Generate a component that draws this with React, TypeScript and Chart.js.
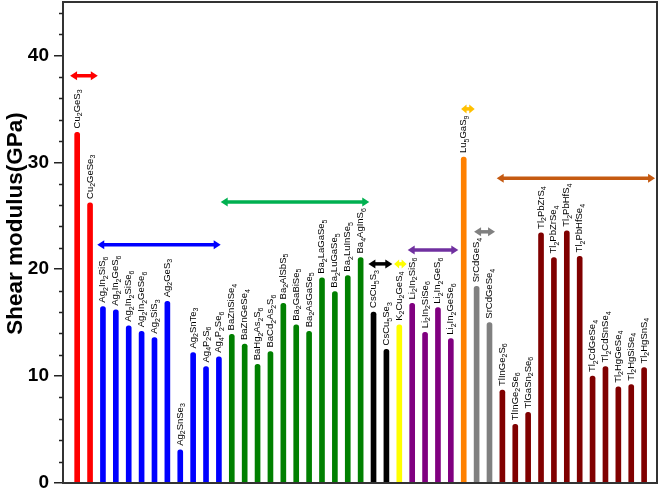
import React, { useEffect, useRef } from "react";
import { Chart, registerables } from "chart.js";

Chart.register(...registerables);

const categories: string[] = [
  "Cu2GeS3", "Cu2GeSe3",
  "Ag2In2SiS6", "Ag2In2GeS6", "Ag2In2SiSe6", "Ag2In2GeSe6", "Ag2SiS3", "Ag2GeS3", "Ag2SnSe3", "Ag2SnTe3", "Ag4P2S6", "Ag4P2Se6",
  "BaZnSiSe4", "BaZnGeSe4", "BaHg2As2S6", "BaCd2As2S6", "Ba2AlSbS5", "Ba2GaBiSe5", "Ba2AsGaSe5", "Ba2LaGaSe5", "Ba2LuGaSe5", "Ba2LuInSe5", "Ba4AgInS6",
  "CsCu5S3", "CsCu5Se3",
  "K2Cu2GeS4",
  "Li2In2SiS6", "Li2In2SiSe6", "Li2In2GeS6", "Li2In2GeSe6",
  "Lu5GaS9",
  "SrCdGeS4", "SrCdGeSe4",
  "TlInGe2S6", "TlInGe2Se6", "TlGaSn2Se6", "Tl2PbZrS4", "Tl2PbZrSe4", "Tl2PbHfS4", "Tl2PbHfSe4", "Tl2CdGeSe4", "Tl2CdSnSe4", "Tl2HgGeSe4", "Tl2HgSiSe4", "Tl2HgSnS4",
];

const shearModulus: number[] = [
  32.8, 26.2,
  16.5, 16.2, 14.7, 14.2, 13.6, 17.0, 3.1, 12.2, 10.9, 11.8,
  13.9, 13.0, 11.1, 12.3, 16.8, 14.8, 14.2, 19.2, 17.9, 19.4, 21.1,
  16.0, 12.5,
  14.8,
  16.8, 14.1, 16.4, 13.5,
  30.5,
  18.4, 15.0,
  8.7, 5.5, 6.6, 23.4, 21.1, 23.6, 21.2, 10.0, 10.9, 9.0, 9.2, 10.8,
];

const groupSizes: number[] = [2, 10, 11, 2, 1, 4, 1, 2, 12];
const groupColors: string[] = ["#ff0000", "#0000ff", "#008000", "#000000", "#ffff00", "#800080", "#ff8000", "#808080", "#800000"];

const arrowStarts: number[] = [0.45, 2.56, 12.14, 23.6, 25.6, 26.65, 30.8, 31.8, 33.56];
const arrowEnds: number[] = [2.6, 12.14, 23.67, 25.46, 26.57, 30.58, 31.85, 33.43, 45.85];
const arrowLevels: number[] = [38.1, 22.3, 26.3, 20.5, 20.5, 21.8, 35.0, 23.5, 28.5];
const arrowColors: string[] = ["#ff0000", "#0000ff", "#00b050", "#000000", "#ffff00", "#7030a0", "#ffc000", "#808080", "#c55a11"];

const yMajorStep = 10;
const yMinorStep = 2;
const yTitle = "Shear modulus(GPa)";

const FAM = "'Liberation Sans', Arial, Helvetica, sans-serif";

const barColors: string[] = [];
groupSizes.forEach((n, g) => {
  for (let k = 0; k < n; k++) barColors.push(groupColors[g]);
});

const labelPlugin = {
  id: "formulaLabels",
  afterDatasetsDraw(chart: any) {
    const ctx = chart.ctx as CanvasRenderingContext2D;
    const meta = chart.getDatasetMeta(0);
    ctx.save();
    ctx.fillStyle = "#000";
    ctx.textAlign = "left";
    ctx.textBaseline = "alphabetic";
    meta.data.forEach((el: any, i: number) => {
      const text = categories[i];
      const runs = text.match(/\d+|\D+/g) || [];
      ctx.save();
      ctx.translate(el.x + 2.5, el.y - 4);
      ctx.rotate(-Math.PI / 2);
      let cx = 0;
      for (const r of runs) {
        const sub = /\d/.test(r);
        ctx.font = sub ? `7px ${FAM}` : `9.5px ${FAM}`;
        ctx.fillText(r, cx, sub ? 2.6 : 0);
        cx += ctx.measureText(r).width;
      }
      ctx.restore();
    });
    ctx.restore();
  },
};

const arrowPlugin = {
  id: "groupArrows",
  afterDatasetsDraw(chart: any) {
    const ctx = chart.ctx as CanvasRenderingContext2D;
    const xs = chart.scales.x;
    const ys = chart.scales.y;
    ctx.save();
    arrowStarts.forEach((s, i) => {
      const x1 = xs.getPixelForValue(s);
      const x2 = xs.getPixelForValue(arrowEnds[i]);
      const y = ys.getPixelForValue(arrowLevels[i]);
      const head = Math.min(7, (x2 - x1) / 2.5);
      ctx.strokeStyle = arrowColors[i];
      ctx.fillStyle = arrowColors[i];
      ctx.lineWidth = 3.5;
      ctx.beginPath();
      ctx.moveTo(x1 + head - 1, y);
      ctx.lineTo(x2 - head + 1, y);
      ctx.stroke();
      ctx.beginPath();
      ctx.moveTo(x1, y);
      ctx.lineTo(x1 + head, y - 4.5);
      ctx.lineTo(x1 + head, y + 4.5);
      ctx.closePath();
      ctx.fill();
      ctx.beginPath();
      ctx.moveTo(x2, y);
      ctx.lineTo(x2 - head, y - 4.5);
      ctx.lineTo(x2 - head, y + 4.5);
      ctx.closePath();
      ctx.fill();
    });
    ctx.restore();
  },
};

const framePlugin = {
  id: "frameAndMinor",
  afterDraw(chart: any) {
    const ctx = chart.ctx as CanvasRenderingContext2D;
    const a = chart.chartArea;
    const ys = chart.scales.y;
    ctx.save();
    ctx.strokeStyle = "#333";
    ctx.lineWidth = 2;
    ctx.strokeRect(a.left, a.top, a.right - a.left, a.bottom - a.top);
    ctx.lineWidth = 1.5;
    ctx.strokeStyle = "#222";
    for (let v = yMinorStep; v < ys.max; v += yMinorStep) {
      if (v % yMajorStep === 0) continue;
      const y = Math.round(ys.getPixelForValue(v)) + 0.5;
      ctx.beginPath();
      ctx.moveTo(a.left - 4, y);
      ctx.lineTo(a.left, y);
      ctx.stroke();
    }
    // y-axis title
    ctx.save();
    ctx.translate(22, (a.top + a.bottom) / 2 - 19);
    ctx.rotate(-Math.PI / 2);
    ctx.font = `bold 22.5px ${FAM}`;
    ctx.fillStyle = "#000";
    ctx.textAlign = "center";
    ctx.textBaseline = "alphabetic";
    ctx.fillText(yTitle, 0, 0);
    ctx.restore();
    ctx.restore();
  },
};

export default function App() {
  const ref = useRef<HTMLCanvasElement | null>(null);
  useEffect(() => {
    if (!ref.current) return;
    const chart = new Chart(ref.current, {
      type: "bar",
      data: {
        datasets: [
          {
            data: categories.map((c, i) => ({ x: i + 1, y: shearModulus[i] })),
            backgroundColor: barColors,
            barThickness: 5,
            borderRadius: 2.5,
            borderSkipped: "start",
          } as any,
        ],
      },
      options: {
        responsive: false,
        animation: false,
        layout: { padding: { left: 0, top: 2, right: 3, bottom: 7 } },
        plugins: { legend: { display: false }, tooltip: { enabled: false } },
        scales: {
          x: { type: "linear", min: -0.1, max: 46, offset: false, display: false },
          y: {
            type: "linear",
            min: 0,
            max: 45,
            position: "left",
            afterFit: (s: any) => {
              s.width = 63;
              s.paddingTop = 0;
              s.paddingBottom = 0;
            },
            ticks: {
              stepSize: yMajorStep,
              callback: (v: any) => (Number(v) % yMajorStep === 0 ? String(v) : ""),
              font: { family: FAM, size: 19, weight: "bold" },
              color: "#000",
              padding: 5,
            },
            grid: {
              drawOnChartArea: false,
              drawTicks: true,
              tickLength: 9,
              lineWidth: 1.5,
              color: (c: any) => (c.tick && Number(c.tick.value) % yMajorStep === 0 ? "#222" : "rgba(0,0,0,0)"),
            },
            border: { display: true, color: "#333", width: 2 },
            title: { display: false },
          },
        },
      } as any,
      plugins: [arrowPlugin, labelPlugin, framePlugin],
    });
    return () => chart.destroy();
  }, []);
  return (
    <div style={{ position: "absolute", left: 0, top: 0, width: 660, height: 490, background: "#fff" }}>
      <canvas ref={ref} width={660} height={490} style={{ display: "block" }} />
    </div>
  );
}
